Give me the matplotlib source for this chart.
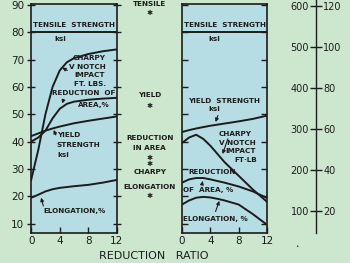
import matplotlib
matplotlib.use("Agg")
import matplotlib.pyplot as plt

# reduction ratio grid shared by all curves
ratio = [0, 1, 2, 3, 4, 5, 6, 8, 10, 12]

# left panel
tensile_l = [80, 80, 80, 80, 80, 80, 80, 80, 80, 80]
charpy_l = [26, 37, 50, 60, 66, 69, 70.5, 72, 73, 73.7]
reduction_l = [40, 41.5, 44, 48.5, 52, 53.8, 54.6, 55.3, 55.7, 56]
yield_l = [42, 43, 44, 44.8, 45.5, 46.1, 46.7, 47.6, 48.4, 49.2]
elong_l = [19.5, 20.6, 21.8, 22.6, 23.1, 23.4, 23.7, 24.2, 25, 26]

# right panel
tensile_r = [80, 80, 80, 80, 80, 80, 80, 80, 80, 80]
yield_r = [43.5, 44.2, 44.8, 45.3, 45.8, 46.2, 46.6, 47.4, 48.3, 49.5]
charpy_r = [39.5, 41.5, 42.5, 41, 38.5, 35.5, 32.5, 27.5, 22.5, 18]
reduction_r = [25, 26.2, 26.7, 26.7, 26.2, 25.6, 25, 23.6, 21.8, 19.4]
elong_r = [17, 18.5, 19.5, 19.8, 19.6, 19.1, 18.5, 17, 13.5, 9.6]

yticks = [10, 20, 30, 40, 50, 60, 70, 80, 90]
xticks = [0, 4, 8, 12]
scale_left = [100, 200, 300, 400, 500, 600]
scale_right = ['20', '40', '60', '80', '100', '120']

BG = '#cde7ce'
PANEL = '#b7dde4'
INK = '#1c1c1c'
fs = 5.2

fig = plt.figure(figsize=(3.5, 2.63), dpi=100, facecolor=BG)

def panel(rect):
    ax = fig.add_axes(rect)
    ax.set_facecolor(PANEL)
    ax.set_xlim(0, 12)
    ax.set_ylim(6.6, 90.3)
    for s in ax.spines.values():
        s.set_color(INK)
        s.set_linewidth(1.2)
    ax.set_xticks(xticks)
    ax.set_yticks(yticks)
    ax.tick_params(axis='both', colors=INK, labelsize=7.5, length=4, width=1,
                   direction='in', right=True, pad=2)
    return ax

ax1 = panel([0.089, 0.114, 0.245, 0.871])
ax1.tick_params(axis='y', direction='inout', length=6)

kw = dict(color=INK, lw=1.4)
ax1.plot(ratio, tensile_l, **kw)
ax1.plot(ratio, charpy_l, **kw)
ax1.plot(ratio, reduction_l, **kw)
ax1.plot(ratio, yield_l, **kw)
ax1.plot(ratio, elong_l, **kw)

t = dict(fontsize=fs, color=INK, fontweight='bold')
ax1.text(6, 82.5, 'TENSILE  STRENGTH', ha='center', va='center', **t)
ax1.text(4.1, 77.5, 'ksi', ha='center', va='center', **t)
ax1.text(5.8, 70.7, 'CHARPY', ha='left', va='center', **t)
ax1.text(5.3, 67.4, 'V NOTCH', ha='left', va='center', **t)
ax1.text(6.0, 64.2, 'IMPACT', ha='left', va='center', **t)
ax1.text(6.0, 61.0, 'FT. LBS.', ha='left', va='center', **t)
ax1.text(7.3, 57.6, 'REDUCTION  OF', ha='center', va='center', **t)
ax1.text(8.8, 53.2, 'AREA,%', ha='center', va='center', **t)
ax1.text(3.6, 42.4, 'YIELD', ha='left', va='center', **t)
ax1.text(3.6, 38.8, 'STRENGTH', ha='left', va='center', **t)
ax1.text(3.6, 35.2, 'ksi', ha='left', va='center', **t)
ax1.text(1.7, 14.7, 'ELONGATION,%', ha='left', va='center', **t)
arr = dict(arrowstyle='-|>', color=INK, lw=0.8, mutation_scale=5)
ax1.annotate('', xy=(4.0, 67.5), xytext=(5.4, 65.5), arrowprops=arr)
ax1.annotate('', xy=(4.2, 53.0), xytext=(4.6, 55.8), arrowprops=arr)
ax1.annotate('', xy=(3.0, 45.2), xytext=(3.6, 41.5), arrowprops=arr)
ax1.annotate('', xy=(1.3, 20.5), xytext=(1.8, 15.5), arrowprops=arr)

ax2 = panel([0.52, 0.114, 0.243, 0.871])
ax2.set_yticklabels([])
ax2.plot(ratio, tensile_r, **kw)
ax2.plot(ratio, yield_r, **kw)
ax2.plot(ratio, charpy_r, **kw)
ax2.plot(ratio, reduction_r, **kw)
ax2.plot(ratio, elong_r, **kw)

ax2.text(6, 82.5, 'TENSILE  STRENGTH', ha='center', va='center', **t)
ax2.text(4.6, 77.5, 'ksi', ha='center', va='center', **t)
ax2.text(5.9, 55.0, 'YIELD  STRENGTH', ha='center', va='center', **t)
ax2.text(4.6, 52.0, 'ksi', ha='center', va='center', **t)
ax2.text(7.5, 42.8, 'CHARPY', ha='center', va='center', **t)
ax2.text(7.8, 39.6, 'V NOTCH', ha='center', va='center', **t)
ax2.text(8.3, 36.4, 'IMPACT', ha='center', va='center', **t)
ax2.text(9.0, 33.2, 'FT\u00b7LB', ha='center', va='center', **t)
ax2.text(0.9, 29.0, 'REDUCTION', ha='left', va='center', **t)
ax2.text(0.2, 22.4, 'OF  AREA, %', ha='left', va='center', **t)
ax2.text(0.15, 11.8, 'ELONGATION, %', ha='left', va='center', **t)
ax2.annotate('', xy=(4.6, 46.2), xytext=(5.2, 50.5), arrowprops=arr)
ax2.annotate('', xy=(5.6, 34.5), xytext=(6.6, 42.0), arrowprops=arr)
ax2.annotate('', xy=(3.0, 26.6), xytext=(2.8, 24.0), arrowprops=arr)
ax2.annotate('', xy=(5.4, 19.3), xytext=(4.6, 13.5), arrowprops=arr)

# middle legend column
m = dict(fontsize=fs, color=INK, ha='center', va='center', fontweight='bold')
fig.text(0.428, 0.985, 'TENSILE', **m)
fig.text(0.428, 0.952, '\u2731', **m)
fig.text(0.428, 0.637, 'YIELD', **m)
fig.text(0.428, 0.598, '\u2731', **m)
fig.text(0.428, 0.475, 'REDUCTION', **m)
fig.text(0.428, 0.437, 'IN AREA', **m)
fig.text(0.428, 0.399, '\u2731', **m)
fig.text(0.428, 0.376, '\u2731', **m)
fig.text(0.428, 0.346, 'CHARPY', **m)
fig.text(0.428, 0.289, 'ELONGATION', **m)
fig.text(0.428, 0.255, '\u2731', **m)

fig.text(0.44, 0.026, 'REDUCTION   RATIO', fontsize=8, color=INK,
         ha='center', va='center')

# conversion scale on the right
ax3 = fig.add_axes([0.903, 0.114, 0.001, 0.886])
ax3.set_ylim(47.5, 615)
ax3.set_xticks([])
for k in ['top', 'bottom', 'right']:
    ax3.spines[k].set_visible(False)
ax3.spines['left'].set_color(INK)
ax3.spines['left'].set_linewidth(1)
ax3.set_facecolor('none')
ax3.set_yticks(scale_left)
ax3.tick_params(axis='y', direction='inout', length=8, width=1, colors=INK,
                labelsize=7, pad=1)
ax3b = ax3.twinx()
ax3b.set_ylim(47.5, 615)
for k in ['top', 'bottom', 'right', 'left']:
    ax3b.spines[k].set_visible(False)
ax3b.set_yticks(scale_left)
ax3b.set_yticklabels(scale_right)
ax3b.tick_params(axis='y', length=0, colors=INK, labelsize=7, pad=5)

fig.text(0.848, 0.061, '\u2022', fontsize=4, color=INK, ha='center', va='center')

fig.savefig('out.png', dpi=100, facecolor=BG)
